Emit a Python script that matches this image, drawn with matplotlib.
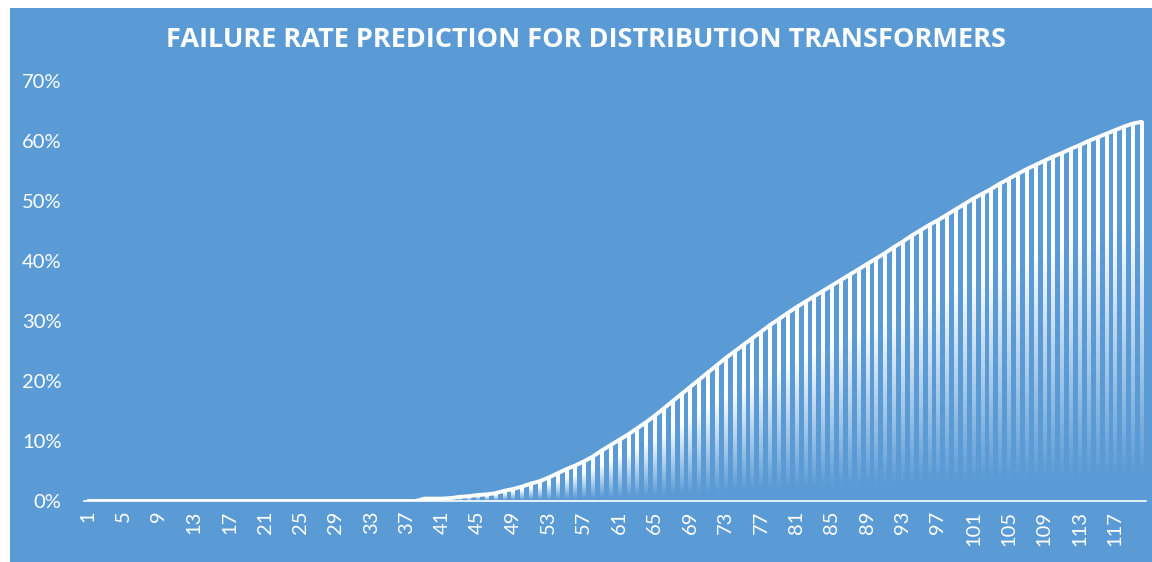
import matplotlib
matplotlib.use("Agg")
import matplotlib.pyplot as plt
import numpy as np
from matplotlib.patches import Rectangle

# Predicted cumulative failure rate (%) per year of service, years 1..120
years = list(range(1, 121))
failure_rate = (
    [0.0] * 38
    + [0.4, 0.4, 0.4, 0.5, 0.7, 0.8, 1.0, 1.1, 1.3, 1.7,
       2.0, 2.4, 2.9, 3.3, 3.9, 4.6, 5.3, 5.9, 6.6, 7.4,
       8.4, 9.3, 10.2, 11.1, 12.1, 13.1, 14.2, 15.4, 16.6, 17.8,
       19.0, 20.2, 21.4, 22.6, 23.8, 24.9, 26.0, 27.1, 28.2, 29.3,
       30.3, 31.3, 32.3, 33.2, 34.1, 35.0, 35.9, 36.8, 37.7, 38.6,
       39.5, 40.4, 41.3, 42.3, 43.2, 44.2, 45.1, 46.0, 46.8, 47.7,
       48.6, 49.5, 50.4, 51.2, 52.0, 52.9, 53.7, 54.5, 55.3, 56.0,
       56.7, 57.4, 58.0, 58.7, 59.3, 60.0, 60.6, 61.2, 61.8, 62.4,
       62.9, 63.2]
)
tick_years = years[::4]
y_ticks = [0, 10, 20, 30, 40, 50, 60, 70]

BG = "#5B9BD5"
plt.rcParams["font.family"] = ["Lato", "DejaVu Sans"]

fig = plt.figure(figsize=(11.52, 5.62), dpi=100, facecolor="white")
# blue chart area with a thin white margin on the left and top
fig.patches.append(Rectangle((10 / 1152, 0), 1, 1 - 8 / 562, transform=fig.transFigure,
                             facecolor=BG, edgecolor="none", zorder=-10))

ax = fig.add_axes([0.0726, 0.1085, 0.9222, 0.7474])
ax.set_facecolor("none")

x = np.arange(len(years))
vals = np.array(failure_rate)

# bars with a white gradient fading towards the base
bars = ax.bar(x, vals, width=0.36, color="none", edgecolor="none")
t = np.linspace(0.0, 1.0, 256)
grad = np.ones((256, 1, 4))
grad[:, 0, 3] = np.clip(1.5 * t - 0.1, 0, 1)
for b in bars:
    h = b.get_height()
    if h <= 0:
        continue
    ax.imshow(grad, extent=(b.get_x(), b.get_x() + b.get_width(), 0, h),
              origin="lower", aspect="auto", interpolation="bilinear", zorder=2)

ax.plot(x, vals, color="white", lw=2.8, solid_capstyle="round",
        solid_joinstyle="round", zorder=4)

ax.set_xlim(-0.5, len(years) - 0.5)
ax.set_ylim(0, 70)
ax.set_yticks(y_ticks)
ax.set_yticklabels([f"{v}%" for v in y_ticks])
ax.set_xticks([y - 1 for y in tick_years])
ax.set_xticklabels([str(y) for y in tick_years], rotation=90)

for s in ["top", "right", "left"]:
    ax.spines[s].set_visible(False)
ax.spines["bottom"].set_color("white")
ax.spines["bottom"].set_linewidth(1.2)
ax.tick_params(axis="y", length=0, pad=16, labelsize=14.5, labelcolor="white")
ax.tick_params(axis="x", length=0, pad=7, labelsize=14.5, labelcolor="white")

fig.text(0.509, 0.928, "FAILURE RATE PREDICTION FOR DISTRIBUTION TRANSFORMERS",
         color="white", fontsize=19.5, fontweight="bold", ha="center", va="center",
         family=["Open Sans", "DejaVu Sans"])

fig.savefig("out.png", dpi=100, facecolor="white")
